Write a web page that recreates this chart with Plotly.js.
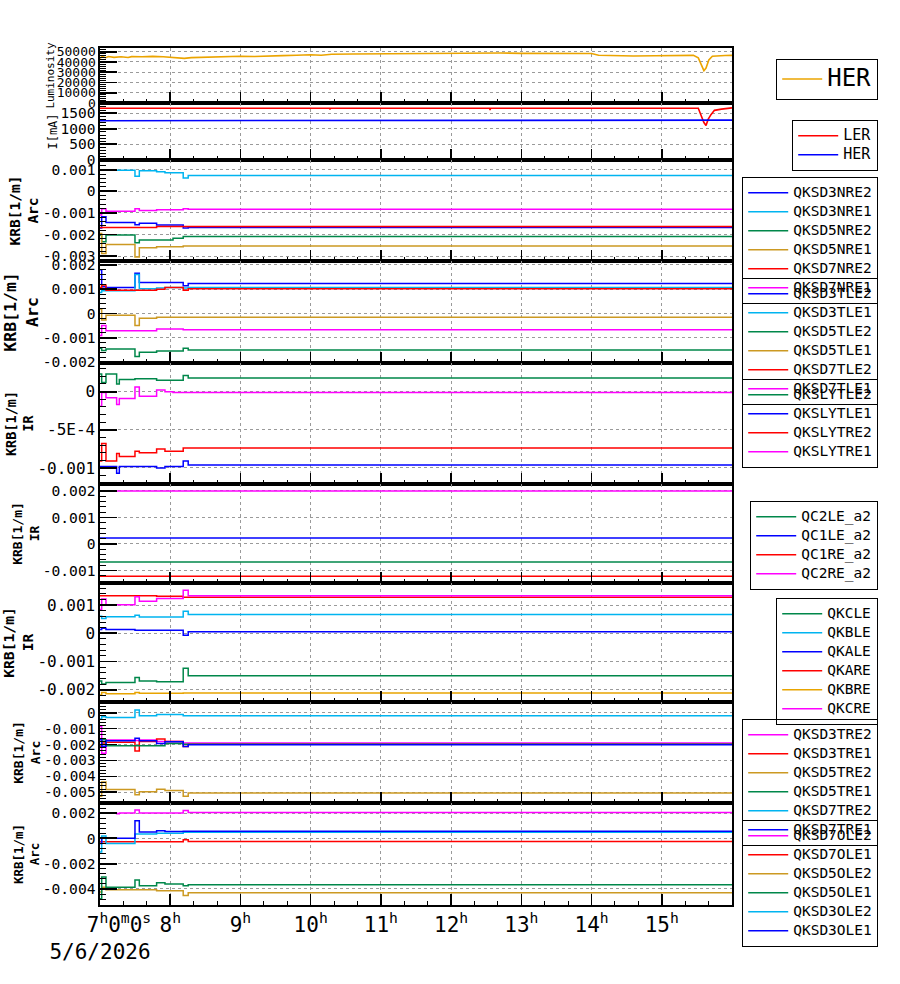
<!DOCTYPE html>
<html><head><meta charset="utf-8">
<script src="https://cdn.plot.ly/plotly-3.0.1.min.js"></script>
<style>body{margin:0;background:#fff}#chart{width:900px;height:984px}</style>
</head><body><div id="chart"></div>
<script>
// ---------------- DATA (time in decimal hours on 5/6/2026) ----------------
const lumTime  = [7.0,7.03,7.08,7.12,7.2,7.3,7.4,7.45,7.6,7.75,7.9,8.0,8.1,8.2,8.3,8.45,8.6,8.8,9.0,9.2,9.4,9.6,9.8,10.0,10.15,10.3,10.6,10.9,11.2,11.5,11.8,12.1,12.4,12.7,13.0,13.3,13.6,13.85,14.0,14.1,14.35,14.6,14.9,15.2,15.45,15.52,15.57,15.6,15.63,15.67,15.72,15.8,15.9,16.0];
const lumValue = [43500,45500,44200,45300,44500,45000,44300,45200,45000,45400,45000,44500,43800,43500,44200,44600,45000,45200,45500,45300,46000,46200,46500,47000,46600,47500,47800,48000,48300,48500,48800,49000,49000,48700,48400,48500,48600,48600,48200,46500,46000,45800,46000,46200,46400,44000,37000,31500,34000,42000,45500,46000,46300,46400];

const curTime  = [7.0,10.27,10.275,10.28,12.55,12.555,12.56,15.52,15.56,15.6,15.63,15.66,15.7,15.75,15.85,15.95,16.0];
const lerValue = [1656,1656,1620,1656,1656,1600,1656,1656,1450,1200,1106,1300,1450,1590,1630,1650,1668];
const herTime  = [7.0,9.7,9.701,16.0];
const herValue = [1258,1258,1276,1276];

// shared step-time grid for the KRB panels
const krbTime = [7.0,7.024,7.085,7.237,7.275,7.498,7.56,7.806,7.925,8.04,8.185,8.256,16.0];

// panel 3 (Arc)
const QKSD3NRE2 = [-0.0017,-0.00118,-0.00145,-0.00145,-0.00145,-0.00155,-0.00148,-0.00156,-0.00156,-0.00156,-0.0017,-0.00168,-0.00168];
const QKSD3NRE1 = [0.00098,0.00098,0.00097,0.00097,0.00097,0.0007,0.00095,0.0009,0.00086,0.00086,0.00062,0.00073,0.00073];
const QKSD5NRE2 = [-0.00202,-0.00234,-0.00202,-0.00202,-0.00202,-0.00238,-0.00226,-0.00226,-0.00226,-0.00218,-0.0021,-0.0021,-0.0021];
const QKSD5NRE1 = [-0.00195,-0.00288,-0.00246,-0.00246,-0.00246,-0.00304,-0.00262,-0.00257,-0.00257,-0.00257,-0.00254,-0.00254,-0.00254];
const QKSD7NRE2 = [-0.00168,-0.00168,-0.00168,-0.00168,-0.00168,-0.00168,-0.00168,-0.00163,-0.00163,-0.00163,-0.00163,-0.00163,-0.00163];
const QKSD7NRE1 = [-0.0011,-0.00081,-0.00093,-0.00093,-0.00093,-0.00081,-0.00089,-0.00086,-0.00086,-0.00086,-0.00081,-0.00083,-0.00083];
// panel 4 (Arc)
const QKSD3TLE2 = [0.0018,0.0011,0.00107,0.00107,0.00107,0.00166,0.00127,0.00127,0.00127,0.00127,0.00114,0.00123,0.00123];
const QKSD3TLE1 = [0.00086,0.00093,0.00093,0.00093,0.00093,0.0016,0.00102,0.00105,0.00107,0.00107,0.00105,0.00107,0.00107];
const QKSD5TLE2 = [-0.00143,-0.00153,-0.00146,-0.00146,-0.00146,-0.00177,-0.0016,-0.00155,-0.00155,-0.00155,-0.00143,-0.0015,-0.0015];
const QKSD5TLE1 = [0.00018,-0.00027,-0.00007,-0.00007,-0.00007,-0.0005,-0.0002,-0.00016,-0.00016,-0.00016,-0.00016,-0.00016,-0.00016];
const QKSD7TLE2 = [0.00107,0.00117,0.00096,0.00096,0.00096,0.00096,0.00096,0.001,0.00107,0.00107,0.00096,0.00102,0.00102];
const QKSD7TLE1 = [-0.00091,-0.0005,-0.00071,-0.00071,-0.00071,-0.00071,-0.00071,-0.00064,-0.00064,-0.00064,-0.00067,-0.00067,-0.00067];
// panel 5 (IR)
const QKSLYTLE2 = [0.00023,0.00012,0.00023,0.0001,0.00016,0.00017,0.00017,0.00015,0.00015,0.00015,0.00021,0.00018,0.00018];
const QKSLYTLE1 = [-0.00098,-0.00098,-0.00098,-0.00107,-0.00098,-0.00098,-0.00098,-0.001,-0.00098,-0.00098,-0.00091,-0.00096,-0.00096];
const QKSLYTRE2 = [-0.00091,-0.00068,-0.00091,-0.00081,-0.00085,-0.00078,-0.0008,-0.00075,-0.00078,-0.00078,-0.00074,-0.00074,-0.00074];
const QKSLYTRE1 = [-0.00019,-0.00001,-0.00008,-0.00017,-0.00009,0.00006,-0.00006,0.00002,0.0,-0.00001,-0.00001,-0.00001,-0.00001];
// panel 6 (IR) - constant
const irTime = [7.0,16.0];
const QC2LE_a2 = [-0.00068,-0.00068];
const QC1LE_a2 = [0.00023,0.00023];
const QC1RE_a2 = [-0.00122,-0.00122];
const QC2RE_a2 = [0.002,0.002];
// panel 7 (IR)
const QKCLE = [-0.00169,-0.0018,-0.00175,-0.00175,-0.00175,-0.00157,-0.00169,-0.00172,-0.00172,-0.00172,-0.00124,-0.00151,-0.00151];
const QKBLE = [0.00061,0.00053,0.00059,0.00059,0.00059,0.00064,0.00058,0.00058,0.00058,0.00058,0.00079,0.00067,0.00067];
const QKALE = [0.00014,0.00018,0.00014,0.00014,0.00014,0.00011,0.00011,0.00011,0.00011,0.00011,-0.00007,0.00006,0.00006];
const QKARE = [0.00134,0.00134,0.00134,0.00134,0.00134,0.00134,0.00134,0.00132,0.00132,0.00132,0.00128,0.00128,0.00128];
const QKBRE = [-0.00219,-0.0021,-0.00215,-0.00215,-0.00215,-0.0021,-0.00213,-0.00213,-0.00213,-0.00213,-0.00212,-0.00212,-0.00212];
const QKCRE = [0.00085,0.00122,0.00102,0.00102,0.00102,0.0013,0.00114,0.00124,0.00124,0.00124,0.00153,0.00134,0.00134];
// panel 8 (Arc)
const QKSD3TRE2 = [-0.00087,-0.00254,-0.00171,-0.00171,-0.00171,-0.00175,-0.00171,-0.00181,-0.00181,-0.00181,-0.00191,-0.00191,-0.00191];
const QKSD3TRE1 = [-0.0021,-0.0019,-0.00185,-0.00185,-0.00185,-0.0024,-0.00181,-0.00166,-0.00181,-0.00181,-0.00212,-0.00198,-0.00198];
const QKSD5TRE2 = [-0.00525,-0.00435,-0.00483,-0.00483,-0.00483,-0.00515,-0.00496,-0.0048,-0.00488,-0.00488,-0.00525,-0.00504,-0.00504];
const QKSD5TRE1 = [-0.00202,-0.0017,-0.00208,-0.00208,-0.00208,-0.00208,-0.00208,-0.00208,-0.00194,-0.00194,-0.00198,-0.00198,-0.00198];
const QKSD7TRE2 = [-0.00039,-0.00025,-0.00031,-0.00031,-0.00031,0.00017,-0.00019,-0.00011,-0.00011,-0.00011,-0.00019,-0.00019,-0.00019];
const QKSD7TRE1 = [-0.0017,-0.0021,-0.00176,-0.00176,-0.00176,-0.0016,-0.00176,-0.00194,-0.00183,-0.00183,-0.00212,-0.00202,-0.00202];
// panel 9 (Arc)
const QKSD7OLE2 = [0.002,0.002,0.002,0.00195,0.002,0.00224,0.002,0.002,0.002,0.002,0.0022,0.00204,0.00204];
const QKSD7OLE1 = [-0.00027,-0.00027,-0.00027,-0.00027,-0.00027,-0.00027,-0.00027,-0.00027,-0.00027,-0.00027,-0.00011,-0.00024,-0.00024];
const QKSD5OLE2 = [-0.00425,-0.00386,-0.00406,-0.00406,-0.00406,-0.00406,-0.00406,-0.00414,-0.00414,-0.00414,-0.00452,-0.0043,-0.0043];
const QKSD5OLE1 = [-0.00478,-0.00306,-0.00386,-0.00386,-0.00386,-0.0033,-0.00375,-0.00351,-0.0036,-0.0036,-0.00375,-0.00367,-0.00367];
const QKSD3OLE2 = [-0.00107,0.00018,-0.0004,-0.0004,-0.0004,0.00034,0.00034,0.0004,0.0004,0.0004,0.00048,0.00048,0.00048];
const QKSD3OLE1 = [-0.0004,0.00002,0.00002,0.00002,0.00002,0.0014,0.0005,0.0006,0.00055,0.00055,0.00056,0.00056,0.00056];

// tick labels
const hourTicks = [7,8,9,10,11,12,13,14,15];
const hourLabels = ['\u00a0\u00a0\u00a07<sup>h</sup>0<sup>m</sup>0<sup>s</sup><br>5/6/2026','8<sup>h</sup>','9<sup>h</sup>','10<sup>h</sup>','11<sup>h</sup>','12<sup>h</sup>','13<sup>h</sup>','14<sup>h</sup>','15<sup>h</sup>'];
const lumTicks = [0,10000,20000,30000,40000,50000];
const lumTickText = ['0','10000','20000','30000','40000','50000'];
const curTicks = [0,500,1000,1500];
const curTickText = ['0','500','1000','1500'];
const p3Ticks = [0.001,0,-0.001,-0.002,-0.003];
const p3Text = ['0.001','0','-0.001','-0.002','-0.003'];
const p4Ticks = [0.002,0.001,0,-0.001,-0.002];
const p4Text = ['0.002','0.001','0','-0.001','-0.002'];
const p5Ticks = [0,-0.0005,-0.001];
const p5Text = ['0','-5E-4','-0.001'];
const p6Ticks = [0.002,0.001,0,-0.001];
const p6Text = ['0.002','0.001','0','-0.001'];
const p7Ticks = [0.001,0,-0.001,-0.002];
const p7Text = ['0.001','0','-0.001','-0.002'];
const p8Ticks = [0,-0.001,-0.002,-0.003,-0.004,-0.005];
const p8Text = ['0','-0.001','-0.002','-0.003','-0.004','-0.005'];
const p9Ticks = [0.002,0,-0.002,-0.004];
const p9Text = ['0.002','0','-0.002','-0.004'];

// ---------------- STYLE ----------------
const MONO = 'DejaVu Sans Mono';
const C = {blue:'#0000ff', cyan:'#00b4f0', green:'#00874a', gold:'#cc9922', red:'#ff0000', magenta:'#ff00ff', orange:'#e8a400', lum:'#eba400'};
function p2(n){return (n<10?'0':'')+n;}
function d(h){const t=Math.round(h*3600);return '2026-05-06 '+p2(Math.floor(t/3600))+':'+p2(Math.floor(t%3600/60))+':'+p2(t%60);}

// legend: rowSize sets item spacing, textSize the drawn text size
const panels = [
  {top:48, bot:103, range:[0,53600], tv:lumTicks, tt:lumTickText, tf:13, minor:2000, title:'Luminosity', titleSize:11, bold:false,
   legend:{top:59, rowSize:19, textSize:24},
   series:[['HER', lumTime, lumValue, C.lum]]},
  {top:103, bot:160, range:[0,1825], tv:curTicks, tt:curTickText, tf:14.5, minor:100, title:'I[mA]', titleSize:12, bold:false,
   legend:{top:120, rowSize:11.8, textSize:15},
   series:[['LER', curTime, lerValue, C.red],['HER', herTime, herValue, C.blue]]},
  {top:160, bot:261, range:[-0.00323,0.00145], tv:p3Ticks, tt:p3Text, tf:14.6, minor:0.0002, title:'KRB[1/m]<br>Arc', titleSize:14.5, bold:true,
   legend:{top:177, rowSize:10.8, textSize:14.5},
   series:[['QKSD3NRE2',krbTime,QKSD3NRE2,C.blue],['QKSD3NRE1',krbTime,QKSD3NRE1,C.cyan],['QKSD5NRE2',krbTime,QKSD5NRE2,C.green],['QKSD5NRE1',krbTime,QKSD5NRE1,C.gold],['QKSD7NRE2',krbTime,QKSD7NRE2,C.red],['QKSD7NRE1',krbTime,QKSD7NRE1,C.magenta]]},
  {top:261, bot:363, range:[-0.00204,0.00216], tv:p4Ticks, tt:p4Text, tf:14.6, minor:0.0002, title:'KRB[1/m]<br>Arc', titleSize:16.5, bold:true,
   legend:{top:278, rowSize:10.8, textSize:14.5},
   series:[['QKSD3TLE2',krbTime,QKSD3TLE2,C.blue],['QKSD3TLE1',krbTime,QKSD3TLE1,C.cyan],['QKSD5TLE2',krbTime,QKSD5TLE2,C.green],['QKSD5TLE1',krbTime,QKSD5TLE1,C.gold],['QKSD7TLE2',krbTime,QKSD7TLE2,C.red],['QKSD7TLE1',krbTime,QKSD7TLE1,C.magenta]]},
  {top:363, bot:484, range:[-0.00121,0.000375], tv:p5Ticks, tt:p5Text, tf:16, minor:0.0001, title:'KRB[1/m]<br>IR', titleSize:13.5, bold:true,
   legend:{top:379, rowSize:10.8, textSize:14.5},
   series:[['QKSLYTLE2',krbTime,QKSLYTLE2,C.green],['QKSLYTLE1',krbTime,QKSLYTLE1,C.blue],['QKSLYTRE2',krbTime,QKSLYTRE2,C.red],['QKSLYTRE1',krbTime,QKSLYTRE1,C.magenta]]},
  {top:484, bot:583, range:[-0.00147,0.00226], tv:p6Ticks, tt:p6Text, tf:14.6, minor:0.0002, title:'KRB[1/m]<br>IR', titleSize:13, bold:true,
   legend:{top:501, rowSize:10.8, textSize:14.5},
   series:[['QC2LE_a2',irTime,QC2LE_a2,C.green],['QC1LE_a2',irTime,QC1LE_a2,C.blue],['QC1RE_a2',irTime,QC1RE_a2,C.red],['QC2RE_a2',irTime,QC2RE_a2,C.magenta]]},
  {top:583, bot:702, range:[-0.00244,0.00179], tv:p7Ticks, tt:p7Text, tf:16, minor:0.0002, title:'KRB[1/m]<br>IR', titleSize:14.7, bold:true,
   legend:{top:598, rowSize:10.8, textSize:14.5},
   series:[['QKCLE',krbTime,QKCLE,C.green],['QKBLE',krbTime,QKBLE,C.cyan],['QKALE',krbTime,QKALE,C.blue],['QKARE',krbTime,QKARE,C.red],['QKBRE',krbTime,QKBRE,C.orange],['QKCRE',krbTime,QKCRE,C.magenta]]},
  {top:702, bot:803, range:[-0.00567,0.00067], tv:p8Ticks, tt:p8Text, tf:14.3, minor:0.0002, title:'KRB[1/m]<br>Arc', titleSize:13, bold:true,
   legend:{top:719, rowSize:10.8, textSize:14.5},
   series:[['QKSD3TRE2',krbTime,QKSD3TRE2,C.magenta],['QKSD3TRE1',krbTime,QKSD3TRE1,C.red],['QKSD5TRE2',krbTime,QKSD5TRE2,C.gold],['QKSD5TRE1',krbTime,QKSD5TRE1,C.green],['QKSD7TRE2',krbTime,QKSD7TRE2,C.cyan],['QKSD7TRE1',krbTime,QKSD7TRE1,C.blue]]},
  {top:803, bot:905, range:[-0.00527,0.0028], tv:p9Ticks, tt:p9Text, tf:14.6, minor:0.0004, title:'KRB[1/m]<br>Arc', titleSize:12.5, bold:true,
   legend:{top:820, rowSize:10.8, textSize:14.5},
   series:[['QKSD7OLE2',krbTime,QKSD7OLE2,C.magenta],['QKSD7OLE1',krbTime,QKSD7OLE1,C.red],['QKSD5OLE2',krbTime,QKSD5OLE2,C.gold],['QKSD5OLE1',krbTime,QKSD5OLE1,C.green],['QKSD3OLE2',krbTime,QKSD3OLE2,C.cyan],['QKSD3OLE1',krbTime,QKSD3OLE1,C.blue]]}
];

const W=900,H=984,ML=100,MR=168,MT=48,MB=79;
const plotH = H-MT-MB;
const traces=[];
const layout={width:W,height:H,margin:{l:ML,r:MR,t:MT,b:MB},paper_bgcolor:'#fff',plot_bgcolor:'#fff',
  font:{family:MONO,color:'#000'},showlegend:true,annotations:[]};

panels.forEach((pn,i)=>{
  const k=i+1, sx=k===1?'':String(k);
  const legName = k===1?'legend':'legend'+k;
  pn.series.forEach(s=>{
    traces.push({type:'scatter',mode:'lines',
      name:'<span style="font-size:'+pn.legend.textSize+'px">'+s[0]+'</span>',
      x:s[1].map(d),y:s[2],
      xaxis:'x'+sx,yaxis:'y'+sx,legend:legName,
      line:{color:s[3],width:(k<=2?1.6:1.5),shape:(k<=2?'linear':'hv')},hoverinfo:'skip'});
  });
  const isLast = k===panels.length;
  layout['xaxis'+sx]={type:'date',range:[d(7),d(16)],anchor:'y'+sx,domain:[0,1],
    tickvals:hourTicks.map(d),ticktext:hourLabels,showticklabels:isLast,
    tickfont:{family:MONO,size:21},ticks:'inside',ticklen:11,tickwidth:1.5,tickcolor:'#000',
    showgrid:true,gridcolor:'#9a9a9a',griddash:'dot',gridwidth:1,
    minor:{dtick:1200000,ticks:'inside',ticklen:4,tickcolor:'#000',tickwidth:1,showgrid:false},
    showline:true,linecolor:'#000',linewidth:1.6,mirror:true,zeroline:false,fixedrange:true};
  layout['yaxis'+sx]={anchor:'x'+sx,domain:[(H-MB-pn.bot)/plotH,(H-MB-pn.top)/plotH],range:pn.range,
    tickvals:pn.tv,ticktext:pn.tt,tickfont:{family:MONO,size:pn.tf},
    ticks:'inside',ticklen:17,tickwidth:1.8,tickcolor:'#000',
    showgrid:true,gridcolor:'#9a9a9a',griddash:'dot',gridwidth:1,
    minor:{dtick:pn.minor,ticks:'inside',ticklen:6,tickcolor:'#000',tickwidth:1,showgrid:false},
    showline:true,linecolor:'#000',linewidth:1.6,mirror:true,zeroline:false,fixedrange:true,
    title:{text:pn.bold?'<b>'+pn.title+'</b>':pn.title,font:{family:MONO,size:pn.titleSize},standoff:0}};
  layout[legName]={xref:'container',yref:'container',x:878/W,xanchor:'right',y:1-pn.legend.top/H,yanchor:'top',
    bgcolor:'rgba(255,255,255,0)',bordercolor:'#000',borderwidth:1.2,
    font:{family:MONO,size:pn.legend.rowSize},itemwidth:40,traceorder:'normal',tracegroupgap:0};
});

Plotly.newPlot('chart',traces,layout,{staticPlot:true,displayModeBar:false});
</script></body></html>
